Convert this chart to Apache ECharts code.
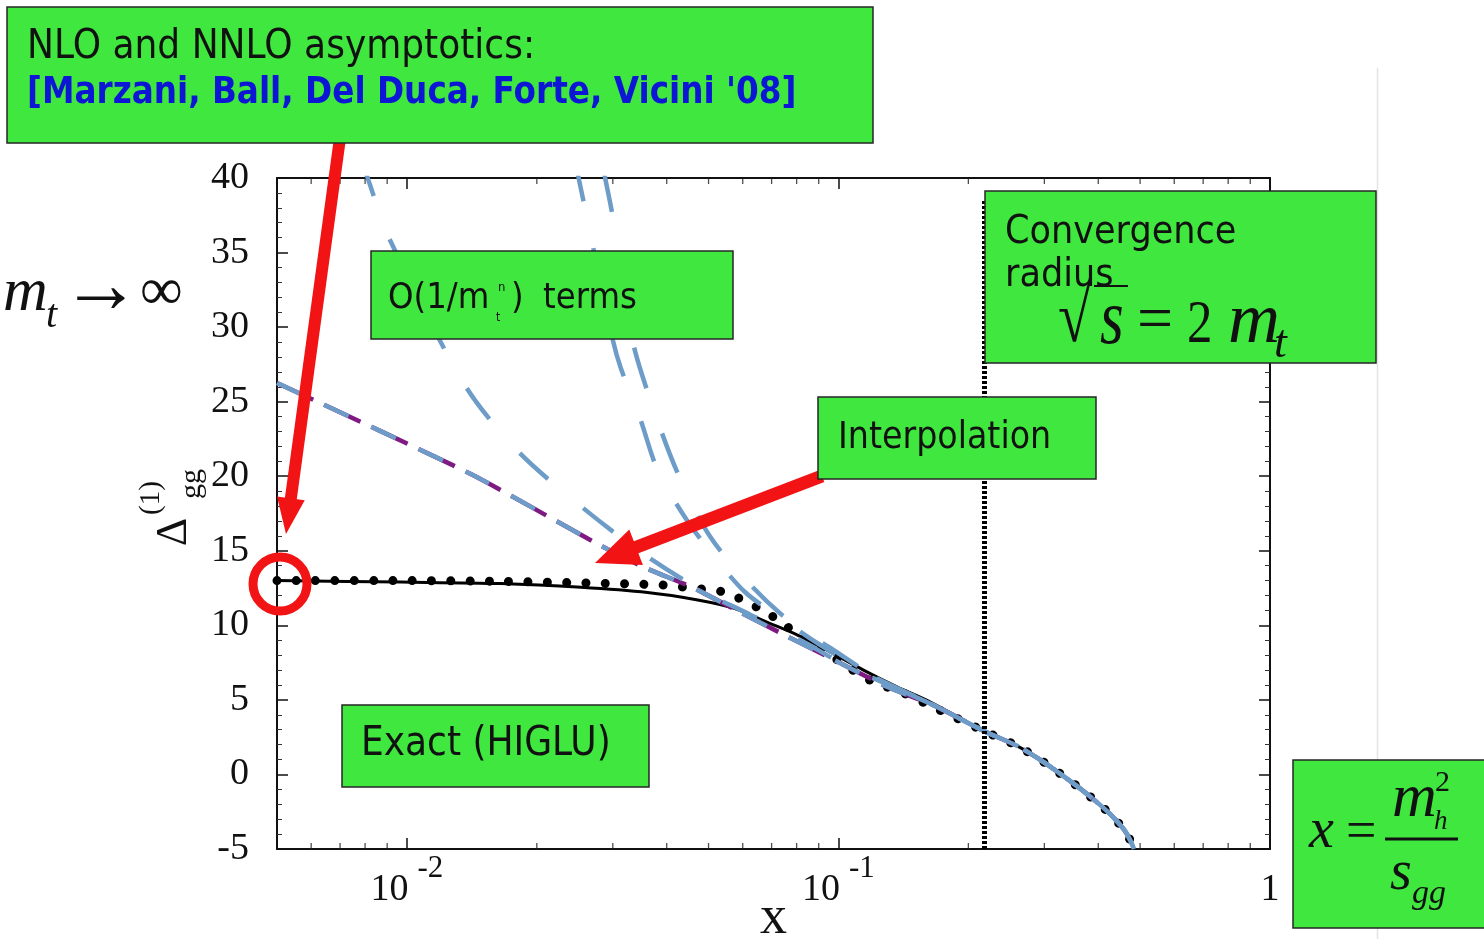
<!DOCTYPE html>
<html>
<head>
<meta charset="utf-8">
<script src="https://cdn.jsdelivr.net/npm/echarts@6/dist/echarts.min.js"></script>
<style>
  html, body { margin: 0; padding: 0; background: #ffffff; }
  #chart { width: 1484px; height: 939px; }
</style>
</head>
<body>
<div id="chart"></div>
<script>
// ---- axis ranges ----
const xMin = 0.005, xMax = 1;
const yMin = -5, yMax = 40, yStep = 5;

// ---- x tick labels (log axis): value, mantissa, exponent ----
const xTickValues = [0.01, 0.1, 1];
const xTickBases = ['10', '10', '1'];
const xTickExps = ['-2', '-1', ''];
const xMinorTicks = [0.006, 0.007, 0.008, 0.009,
  0.02, 0.03, 0.04, 0.05, 0.06, 0.07, 0.08, 0.09,
  0.2, 0.3, 0.4, 0.5, 0.6, 0.7, 0.8, 0.9];

// ---- exact result (HIGLU), solid ----
const exactX = [0.005, 0.0097, 0.0165, 0.0253, 0.0361, 0.0472, 0.0571, 0.0685, 0.0804, 0.0958, 0.1143, 0.137, 0.1633, 0.2178, 0.26, 0.30, 0.354, 0.391, 0.424, 0.459, 0.474, 0.484];
const exactY = [13.0, 12.9, 12.8, 12.55, 12.2, 11.7, 11.15, 10.2, 9.35, 8.2, 7.0, 5.86, 4.86, 2.9, 1.9, 0.8, -0.7, -1.7, -2.6, -3.7, -4.4, -5.0];

// ---- dotted curve ----
const dotX = [0.005, 0.0097, 0.0165, 0.026, 0.0391, 0.0479, 0.053, 0.0587, 0.0646, 0.0707, 0.0762, 0.0834, 0.0908, 0.0995, 0.1078, 0.118, 0.1298, 0.1414, 0.1565, 0.2178, 0.26, 0.30, 0.354, 0.391, 0.424, 0.459, 0.474, 0.484];
const dotY = [13.0, 13.0, 12.95, 12.84, 12.7, 12.44, 12.3, 11.83, 11.23, 10.56, 9.89, 9.15, 8.48, 7.67, 7.0, 6.33, 5.86, 5.46, 4.86, 2.9, 1.9, 0.8, -0.7, -1.7, -2.6, -3.7, -4.4, -5.0];

// ---- small-x asymptotic curve (purple / blue dashed) ----
const asymX = [0.005, 0.01406, 0.0271, 0.0354, 0.0462, 0.0593, 0.0762, 0.0974, 0.1299, 0.1659, 0.2178, 0.26, 0.30, 0.354, 0.391, 0.424, 0.459, 0.474, 0.484];
const asymY = [26.25, 20.15, 15.6, 13.9, 12.5, 10.86, 9.25, 7.7, 5.86, 4.65, 2.9, 1.9, 0.8, -0.7, -1.7, -2.6, -3.7, -4.4, -5.0];

// ---- O(1/mt^n) expansions, blue dashed ----
const termAX = [0.00785, 0.00814, 0.00909, 0.01362, 0.01797, 0.02461, 0.03479, 0.04794, 0.0626, 0.0817, 0.1066, 0.1392, 0.1659, 0.2178, 0.26, 0.30, 0.354, 0.391, 0.424, 0.459, 0.474, 0.484];
const termAY = [41.2, 39.87, 35.98, 26.12, 21.76, 18.27, 14.92, 12.37, 10.7, 9.0, 7.14, 5.66, 4.65, 2.9, 1.9, 0.8, -0.7, -1.7, -2.6, -3.7, -4.4, -5.0];

const termBX = [0.0245, 0.0260, 0.0270, 0.0300, 0.0313, 0.0348, 0.0381, 0.0442, 0.0519, 0.0609, 0.0734, 0.0908, 0.1186, 0.1659, 0.2178, 0.26, 0.30, 0.354, 0.391, 0.424, 0.459, 0.474, 0.484];
const termBY = [41.2, 37.65, 35.37, 29.13, 27.26, 23.77, 20.42, 17.2, 14.5, 12.2, 10.5, 8.68, 6.67, 4.65, 2.9, 1.9, 0.8, -0.7, -1.7, -2.6, -3.7, -4.4, -5.0];

const termCX = [0.02858, 0.0288, 0.0300, 0.0333, 0.0377, 0.0426, 0.0505, 0.0632, 0.0774, 0.0958, 0.125, 0.1659, 0.2178, 0.26, 0.30, 0.354, 0.391, 0.424, 0.459, 0.474, 0.484];
const termCY = [40.5, 40.0, 37.38, 29.13, 24.1, 20.08, 15.92, 12.57, 10.22, 8.48, 6.33, 4.65, 2.9, 1.9, 0.8, -0.7, -1.7, -2.6, -3.7, -4.4, -5.0];

// ---- convergence radius sqrt(s) = 2 mt ----
const radiusX = 0.218;
const radiusTop = 38.5;

const pts = (xs, ys) => xs.map((x, i) => [x, ys[i]]);

const INK = '#111111';
const BLUE = '#6e9cc8';
const PURPLE = '#7e1a82';
const GREEN = '#3fe73f';
const RED = '#f21414';
const SERIF = 'Liberation Serif';
const SANS = 'DejaVu Sans';

function xLabel(v) {
  for (let i = 0; i < xTickValues.length; i++) {
    if (Math.abs(v - xTickValues[i]) / xTickValues[i] < 1e-6) {
      return xTickExps[i] ? '{b|' + xTickBases[i] + '}{s|' + xTickExps[i] + '}' : '{b|' + xTickBases[i] + '}';
    }
  }
  return '';
}

const lineBase = { type: 'line', symbol: 'none', showSymbol: false, silent: true, clip: true, xAxisIndex: 0, yAxisIndex: 0 };

// ---- annotation helpers ----
function box(x, y, w, h) {
  return { type: 'rect', z: 100, silent: true, shape: { x: x, y: y, width: w, height: h },
    style: { fill: GREEN, stroke: '#262626', lineWidth: 1.5 } };
}
function label(text, x, y, family, size, opts) {
  opts = opts || {};
  const align = opts.align || 'left';
  return { type: 'text', z: 101, silent: true, x: x, y: y,
    scaleX: opts.sx || 1, scaleY: opts.sy || 1, rotation: opts.rot || 0,
    style: { text: text, fontFamily: family, fontSize: size,
      fontStyle: opts.italic ? 'italic' : 'normal', fontWeight: opts.bold ? 'bold' : 'normal',
      fill: opts.color || INK, align: align, textAlign: align, verticalAlign: 'middle', textVerticalAlign: 'middle' } };
}
function arrow(x0, y0, tx, ty, width, headLen, headHalf) {
  const dx = tx - x0, dy = ty - y0, len = Math.hypot(dx, dy);
  const ux = dx / len, uy = dy / len, px = -uy, py = ux;
  const bx = tx - ux * headLen, by = ty - uy * headLen;
  return [
    { type: 'line', z: 99, silent: true, shape: { x1: x0, y1: y0, x2: bx + ux * 2, y2: by + uy * 2 },
      style: { stroke: RED, lineWidth: width } },
    { type: 'polygon', z: 99, silent: true,
      shape: { points: [[tx, ty], [bx + px * headHalf, by + py * headHalf], [bx - px * headHalf, by - py * headHalf]] },
      style: { fill: RED } }
  ];
}

const graphics = [].concat(
  [{ type: 'line', z: 98, silent: true, shape: { x1: 1377.5, y1: 68, x2: 1377.5, y2: 939 }, style: { stroke: '#e4e4e4', lineWidth: 1.5 } }],
  arrow(340, 138, 286, 534, 12, 36, 14),
  arrow(822, 476, 595, 563, 13, 44, 19),
  [
    { type: 'circle', z: 99, silent: true, shape: { cx: 280, cy: 584, r: 27 }, style: { fill: 'none', stroke: RED, lineWidth: 9 } },

    box(7, 7, 866, 136),
    label('NLO and NNLO asymptotics:', 27, 48, SANS, 40, { sx: 0.9 }),
    label("[Marzani, Ball, Del Duca, Forte, Vicini '08]", 27, 93, SANS, 38, { sx: 0.86, bold: true, color: '#0c16d4' }),

    box(371, 251, 362, 88),
    label('O(1/m', 388, 299, SANS, 36, { sx: 0.9 }),
    label('t', 496, 318, SANS, 12, { sx: 0.9 }),
    label('n', 498, 288, SANS, 13, { sx: 0.9 }),
    label(')', 511, 299, SANS, 36, { sx: 0.9 }),
    label('terms', 543, 299, SANS, 36, { sx: 0.9 }),

    box(985, 191, 391, 172),
    label('Convergence', 1005, 233, SANS, 39, { sx: 0.9 }),
    label('radius', 1005, 276, SANS, 39, { sx: 0.9 }),
    label('√', 1058, 322, SERIF, 74, { sx: 0.8 }),
    { type: 'line', z: 101, silent: true, shape: { x1: 1094, y1: 286, x2: 1128, y2: 286 }, style: { stroke: INK, lineWidth: 2 } },
    label('s', 1100, 322, SERIF, 78, { italic: true, sx: 0.78 }),
    label('=', 1137, 322, SERIF, 64),
    label('2', 1187, 326, SERIF, 62, { sx: 0.82 }),
    label('m', 1228, 323, SERIF, 72, { italic: true }),
    label('t', 1274, 345, SERIF, 46, { italic: true }),

    box(818, 397, 278, 82),
    label('Interpolation', 838, 438, SANS, 37, { sx: 0.9 }),

    box(342, 705, 307, 82),
    label('Exact (HIGLU)', 361, 745, SANS, 40, { sx: 0.9 }),

    box(1293, 760, 200, 168),
    label('x', 1309, 832, SERIF, 56, { italic: true }),
    label('=', 1346, 834, SERIF, 54),
    { type: 'line', z: 101, silent: true, shape: { x1: 1385, y1: 839, x2: 1458, y2: 839 }, style: { stroke: INK, lineWidth: 3 } },
    label('m', 1392, 800, SERIF, 62, { italic: true }),
    label('h', 1434, 822, SERIF, 27, { italic: true }),
    label('2', 1435, 783, SERIF, 30),
    label('s', 1390, 874, SERIF, 56, { italic: true }),
    label('gg', 1412, 894, SERIF, 34, { italic: true }),

    // m_t -> infinity
    label('m', 3, 294, SERIF, 62, { italic: true }),
    label('t', 46, 316, SERIF, 40, { italic: true }),
    label('→', 61, 290, SERIF, 84, { sx: 0.95 }),
    label('∞', 140, 293, SERIF, 60),

    // y-axis title, reading upwards
    label('Δ', 174, 532, SERIF, 44, { align: 'center', rot: Math.PI / 2 }),
    label('(1)', 151, 498, SERIF, 29, { align: 'center', rot: Math.PI / 2 }),
    label('gg', 192, 484, SERIF, 30, { align: 'center', rot: Math.PI / 2 })
  ]
);

const axisLineStyle = { color: INK, width: 2 };

const option = {
  animation: false,
  backgroundColor: '#ffffff',
  grid: { left: 277, right: 214, top: 178, bottom: 90, containLabel: false, outerBoundsMode: 'none' },
  xAxis: [
    {
      type: 'log', logBase: 10, min: xMin, max: xMax, position: 'bottom',
      axisLine: { show: true, onZero: false, lineStyle: axisLineStyle },
      axisTick: { show: true, inside: true, length: 11, lineStyle: { color: INK, width: 1.5 } },
      axisLabel: {
        show: true, margin: 4, formatter: xLabel, fontFamily: SERIF, fontSize: 38, color: INK,
        rich: {
          b: { fontFamily: SERIF, fontSize: 38, color: INK, lineHeight: 74 },
          s: { fontFamily: SERIF, fontSize: 31, color: INK, lineHeight: 30, verticalAlign: 'top', padding: [0, 0, 0, 9] }
        }
      },
      splitLine: { show: false }, minorTick: { show: false }, minorSplitLine: { show: false },
      name: 'x', nameLocation: 'middle', nameGap: 43, nameMoveOverlap: false,
      nameTextStyle: { fontFamily: SERIF, fontSize: 54, color: INK }
    },
    {
      type: 'log', logBase: 10, min: xMin, max: xMax, position: 'top',
      axisLine: { show: true, onZero: false, lineStyle: axisLineStyle },
      axisTick: { show: true, inside: true, length: 11, lineStyle: { color: INK, width: 1.5 } },
      axisLabel: { show: false }, splitLine: { show: false }
    }
  ],
  yAxis: [
    {
      type: 'value', min: yMin, max: yMax, interval: yStep, position: 'left',
      axisLine: { show: true, onZero: false, lineStyle: axisLineStyle },
      axisTick: { show: true, inside: true, length: 11, lineStyle: { color: INK, width: 1.5 } },
      minorTick: { show: true, splitNumber: 5, length: 5, lineStyle: { color: '#333333', width: 1 } },
      axisLabel: { show: true, margin: 28, fontFamily: SERIF, fontSize: 38, color: INK },
      splitLine: { show: false }, minorSplitLine: { show: false }
    },
    {
      type: 'value', min: yMin, max: yMax, interval: yStep, position: 'right',
      axisLine: { show: true, onZero: false, lineStyle: axisLineStyle },
      axisTick: { show: true, inside: true, length: 11, lineStyle: { color: INK, width: 1.5 } },
      minorTick: { show: true, splitNumber: 5, length: 5, lineStyle: { color: '#333333', width: 1 } },
      axisLabel: { show: false }, splitLine: { show: false }
    }
  ],
  series: [
    Object.assign({}, lineBase, { name: 'Exact (HIGLU)', data: pts(exactX, exactY), smooth: 0.3,
      lineStyle: { color: '#000000', width: 3 } }),
    Object.assign({}, lineBase, { name: 'dotted', data: pts(dotX, dotY), smooth: 0.3,
      lineStyle: { color: '#000000', width: 9, type: [0.01, 19.3], cap: 'round' } }),
    Object.assign({}, lineBase, { name: 'asymptotic', data: pts(asymX, asymY), smooth: 0.2,
      lineStyle: { color: PURPLE, width: 4.5, type: [40, 12] } }),
    Object.assign({}, lineBase, { name: 'asymptotic (blue)', data: pts(asymX, asymY), smooth: 0.2,
      lineStyle: { color: BLUE, width: 4.5, type: [27, 25] } }),
    Object.assign({}, lineBase, { name: 'O(1/mt^n) a', data: pts(termAX, termAY), smooth: 0.3,
      lineStyle: { color: BLUE, width: 4.5, type: [38, 46] } }),
    Object.assign({}, lineBase, { name: 'O(1/mt^n) b', data: pts(termBX, termBY), smooth: 0.3,
      lineStyle: { color: BLUE, width: 4.5, type: [42, 48] } }),
    Object.assign({}, lineBase, { name: 'O(1/mt^n) c', data: pts(termCX, termCY), smooth: 0.3,
      lineStyle: { color: BLUE, width: 4.5, type: [42, 48] } }),
    Object.assign({}, lineBase, { name: 'convergence radius', data: [[radiusX, yMin], [radiusX, radiusTop]],
      lineStyle: { color: '#000000', width: 5, type: [3, 2] } }),
    { type: 'scatter', silent: true, clip: false, z: 3, data: xMinorTicks.map(v => [v, yMin]),
      symbol: 'rect', symbolSize: [1.3, 6], symbolOffset: [0, -3], itemStyle: { color: '#222222' } },
    { type: 'scatter', silent: true, clip: false, z: 3, data: xMinorTicks.map(v => [v, yMax]),
      symbol: 'rect', symbolSize: [1.3, 6], symbolOffset: [0, 3], itemStyle: { color: '#222222' } }
  ],
  graphic: { elements: graphics }
};

const chart = echarts.init(document.getElementById('chart'), null, { renderer: 'canvas' });
chart.setOption(option);
</script>
</body>
</html>
